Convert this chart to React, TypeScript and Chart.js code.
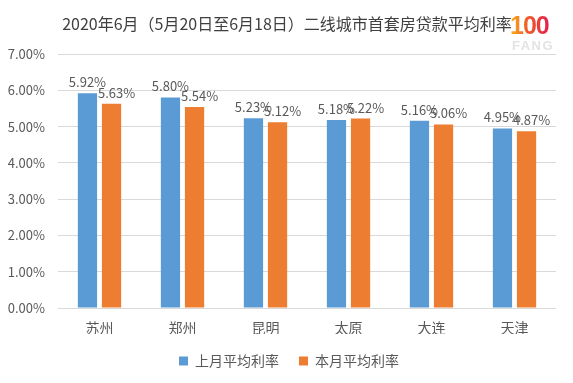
import React, { useEffect, useRef } from "react";
import { Chart, registerables } from "chart.js";

Chart.register(...registerables);

const TITLE = "2020年6月（5月20日至6月18日）二线城市首套房贷款平均利率";
const cities = ["苏州", "郑州", "昆明", "太原", "大连", "天津"];
const lastMonth = [5.92, 5.8, 5.23, 5.18, 5.16, 4.95];
const thisMonth = [5.63, 5.54, 5.12, 5.22, 5.06, 4.87];
const seriesNames = ["上月平均利率", "本月平均利率"];
const yTicks = [0, 1, 2, 3, 4, 5, 6, 7];

const FONT = '"Noto Sans CJK SC", "Noto Sans", sans-serif';
const TEXT = "#595959";

const titlePlugin = {
  id: "customTitle",
  afterDraw(chart: any) {
    const ctx = chart.ctx;
    ctx.save();
    ctx.font = `16px ${FONT}`;
    ctx.fillStyle = "#404040";
    ctx.textAlign = "center";
    ctx.textBaseline = "middle";
    ctx.fillText(TITLE, 287, 24);
    ctx.restore();
  },
};

const legendShift = {
  id: "legendShift",
  afterLayout(chart: any) {
    const l = chart.legend;
    if (l) {
      l.left += 11;
      l.right += 11;
    }
  },
};

const labelPlugin = {
  id: "barLabels",
  afterDatasetsDraw(chart: any) {
    const ctx = chart.ctx;
    ctx.save();
    ctx.font = `13px ${FONT}`;
    ctx.fillStyle = TEXT;
    ctx.textAlign = "center";
    ctx.textBaseline = "middle";
    chart.data.datasets.forEach((ds: any, di: number) => {
      const meta = chart.getDatasetMeta(di);
      meta.data.forEach((bar: any, i: number) => {
        const v = ds.data[i] as number;
        ctx.fillText(v.toFixed(2) + "%", bar.x + (di === 1 ? 5 : 0), bar.y - 11);
      });
    });
    ctx.restore();
  },
};

export default function App() {
  const ref = useRef<HTMLCanvasElement>(null);
  useEffect(() => {
    document.body.style.margin = "0";
    const chart = new Chart(ref.current!, {
      type: "bar",
      data: {
        labels: cities,
        datasets: [
          {
            label: seriesNames[0],
            data: lastMonth,
            backgroundColor: "#5B9BD5",
            categoryPercentage: 0.58,
            barPercentage: 0.8,
          },
          {
            label: seriesNames[1],
            data: thisMonth,
            backgroundColor: "#ED7D31",
            categoryPercentage: 0.58,
            barPercentage: 0.8,
          },
        ],
      },
      options: {
        responsive: false,
        animation: false,
        layout: { padding: { top: 54, right: 17, left: 0, bottom: 5 } },
        plugins: {
          title: { display: false },
          tooltip: { enabled: false },
          legend: {
            position: "bottom",
            labels: {
              boxWidth: 9,
              boxHeight: 9,
              padding: 20,
              color: TEXT,
              font: { size: 14, family: FONT },
            },
          },
        },
        scales: {
          x: {
            grid: { display: false, drawTicks: false },
            border: { display: false },
            ticks: { color: TEXT, font: { size: 14, family: FONT }, padding: 11 },
            afterFit: (s: any) => {
              s.height = 26;
            },
          },
          y: {
            min: 0,
            max: 7,
            afterBuildTicks: (s: any) => {
              s.ticks = yTicks.map((v) => ({ value: v }));
            },
            grid: { color: "#D9D9D9", drawTicks: false },
            border: { display: false },
            ticks: {
              color: TEXT,
              font: { size: 13, family: FONT },
              padding: 13,
              callback: (v: any) => Number(v).toFixed(2) + "%",
            },
            afterFit: (s: any) => {
              s.width = 58;
            },
          },
        },
      },
      plugins: [titlePlugin, labelPlugin, legendShift],
    });
    return () => chart.destroy();
  }, []);

  return (
    <div style={{ position: "relative", width: 573, height: 383, background: "#fff" }}>
      <canvas ref={ref} width={573} height={383} />
      <div
        style={{
          position: "absolute",
          left: 510,
          top: 12,
          fontFamily: "Arial, Liberation Sans, sans-serif",
          fontWeight: 900,
          fontSize: 25,
          lineHeight: "26px",
          letterSpacing: -1,
          background: "linear-gradient(90deg, #f9b21d, #f05a28 45%, #e61e4d)",
          WebkitBackgroundClip: "text",
          backgroundClip: "text",
          color: "transparent",
        }}
      >
        100
      </div>
      <div
        style={{
          position: "absolute",
          left: 512,
          top: 38,
          fontFamily: "Arial, Liberation Sans, sans-serif",
          fontWeight: 700,
          fontSize: 13,
          letterSpacing: 1.5,
          color: "#e3e3e3",
        }}
      >
        FANG
      </div>
    </div>
  );
}
